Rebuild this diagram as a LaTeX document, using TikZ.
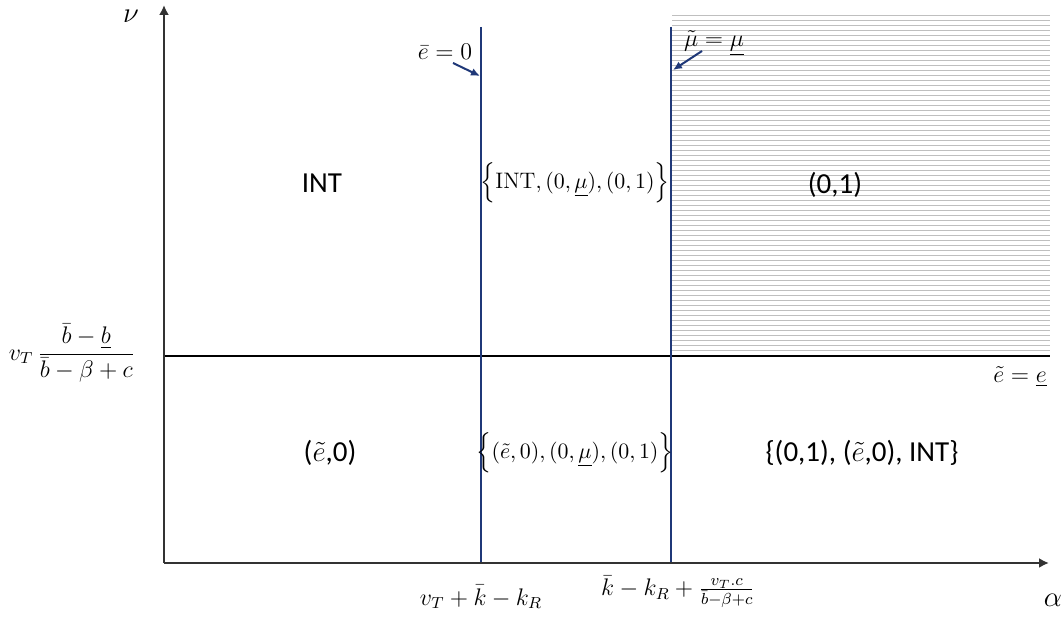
\documentclass[tikz,border=0pt]{standalone}
\usepackage{amsmath}
\usepackage{amssymb}
\usepackage{fontspec}
\newfontfamily\calibri{Carlito}
\usetikzlibrary{arrows.meta}
\definecolor{lineblue}{RGB}{31,56,120}

\begin{document}
\begin{tikzpicture}[x=0.5pt, y=-0.5pt,
    % --- STYLES ---
    axis/.style={-{Latex[length=5pt, width=5pt]}, line width=1pt, color=black!80},
    border/.style={line width=1pt, color=lineblue},
    split/.style={line width=1.2pt, color=black},
    hatch/.style={line width=0.5pt, color=black!25},
    pointer/.style={-{Latex[length=4.5pt, width=4pt]}, line width=1pt, color=lineblue},
    region/.style={font=\calibri\fontsize{14.5}{17}\selectfont, inner sep=0pt},
    maths/.style={font=\fontsize{12}{14}\selectfont, inner sep=0pt},
    choice/.style={maths, font=\fontsize{11.2}{13}\selectfont}
]
    \useasboundingbox (0,0) rectangle (1061,619);

    % --- COORDINATES ---
    \coordinate (O) at (164,563);
    \coordinate (ytop) at (164,5);
    \coordinate (xend) at (1049,563);
    \coordinate (ebartop) at (481,27);
    \coordinate (ebarbot) at (481,563);
    \coordinate (mutop) at (671,27);
    \coordinate (mubot) at (671,563);
    \coordinate (hleft) at (164,356);
    \coordinate (hright) at (1050,356);

    % --- HATCHED REGION ---
    \foreach \yy in {16,21,...,351}
        \draw[hatch] (672,\yy) -- (1050,\yy);

    % --- LINES ---
    \draw[split] (hleft) -- (hright);
    \draw[border] (ebartop) -- (ebarbot);
    \draw[border] (mutop) -- (mubot);
    \draw[axis] (O) -- (ytop);
    \draw[axis] (O) -- (xend);

    % --- AXIS LABELS ---
    \node[maths, font=\fontsize{15}{17}\selectfont] (nu) at (131,16) {$\nu$};
    \node[maths, font=\fontsize{15}{17}\selectfont] (alpha) at (1053,600) {$\alpha$};
    \node[maths] (ylevel) at (72,353) {$v_T\,\dfrac{\bar{b}-\underline{b}}{\bar{b}-\beta+c}$};
    \node[maths] (xone) at (481,597) {$v_T+\bar{k}-k_R$};
    \node[maths] (xtwo) at (678,592) {$\bar{k}-k_R+\frac{v_T.c}{\bar{b}-\beta+c}$};

    % --- BOUNDARY LABELS ---
    \node[maths] (ebar) at (445,52) {$\bar{e}=0$};
    \node[maths] (mut) at (714,43) {$\tilde{\mu}=\underline{\mu}$};
    \node[maths] (etil) at (1020,377) {$\tilde{e}=\underline{e}$};
    \coordinate (ebartail) at (453,63);
    \coordinate (ebartip) at (480,76);
    \coordinate (mutail) at (702,51);
    \coordinate (mutip) at (673,70);
    \draw[pointer] (ebartail) -- (ebartip);
    \draw[pointer] (mutail) -- (mutip);

    % --- REGION LABELS ---
    \node[region] (int) at (322,183) {INT};
    \node[choice] (midtop) at (575,183) {$\Bigl\{\mathrm{INT},(0,\underline{\mu}),(0,1)\Bigr\}$};
    \node[region] (right) at (835,185) {(0,1)};
    \node[region] (elow) at (330,453) {($\tilde{e}$,0)};
    \node[choice] (midlow) at (575,453) {$\Bigl\{(\tilde{e},0),(0,\underline{\mu}),(0,1)\Bigr\}$};
    \node[region] (rightlow) at (862,453) {\{(0,1), ($\tilde{e}$,0), INT\}};

\end{tikzpicture}
\end{document}
